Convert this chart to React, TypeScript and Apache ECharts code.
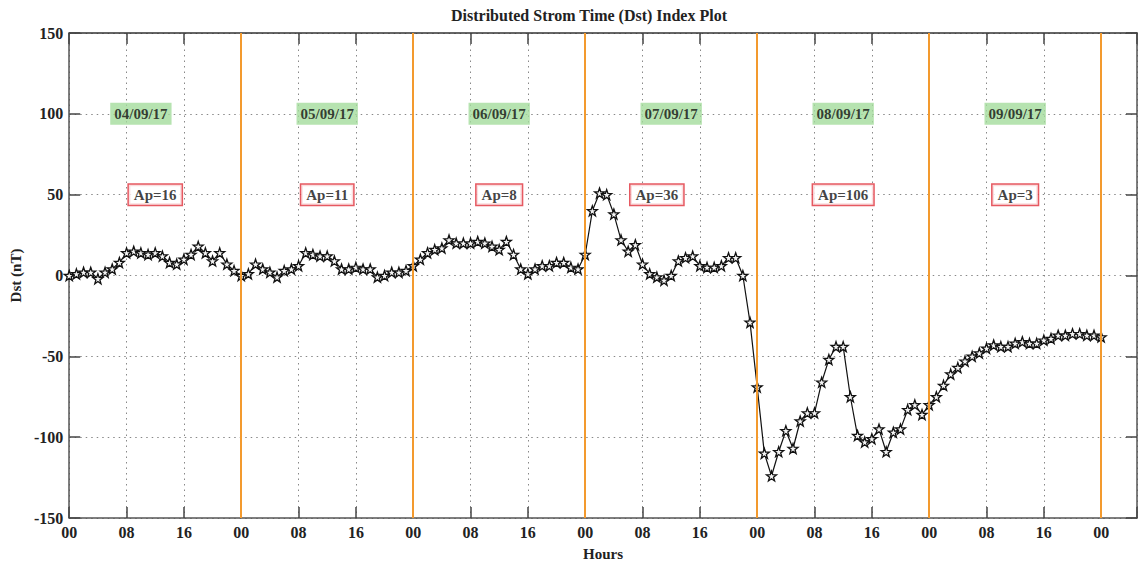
import React, { useEffect, useRef } from "react";
import * as echarts from "echarts";

// Hourly Dst values (nT), 04/09/17 00h .. 10/09/17 00h
const dstDay1 = [0, 1, 2, 2, -2, 2, 4, 8, 14, 15, 14, 13, 14, 12, 8, 7, 10, 13, 18, 14, 9, 14, 7, 3];
const dstDay2 = [0, 1, 7, 4, 2, -1, 3, 4, 6, 14, 13, 12, 12, 9, 4, 4, 5, 4, 4, -1, 0, 2, 2, 3];
const dstDay3 = [6, 10, 14, 16, 17, 22, 20, 20, 20, 21, 20, 18, 16, 21, 13, 4, 1, 4, 6, 6, 8, 8, 5, 4];
const dstDay4 = [13, 40, 51, 50, 38, 22, 15, 19, 7, 1, -1, -3, 0, 9, 11, 12, 6, 5, 5, 6, 11, 11, 0, -29];
const dstDay5 = [-69, -110, -124, -109, -96, -107, -90, -85, -85, -66, -52, -44, -44, -75, -99, -103, -101, -95, -109, -97, -95, -83, -80, -86];
const dstDay6 = [-80, -75, -68, -61, -57, -53, -50, -48, -45, -43, -44, -44, -42, -41, -42, -42, -40, -39, -37, -37, -36, -36, -37, -37];
const dstFinal = [-38];

const dayBoundaries = [24, 48, 72, 96, 120, 144];
const dateLabels = ["04/09/17", "05/09/17", "06/09/17", "07/09/17", "08/09/17", "09/09/17"];
const dateHours = [10, 36, 60, 84, 108, 132];
const dateLevel = 100;
const apLabels = ["Ap=16", "Ap=11", "Ap=8", "Ap=36", "Ap=106", "Ap=3"];
const apHours = [12, 36, 60, 82, 108, 132];
const apLevel = 50;

const STAR =
  "path://M0,-10 L2.35,-3.24 L9.51,-3.09 L3.8,1.24 L5.88,8.09 L0,4 L-5.88,8.09 L-3.8,1.24 L-9.51,-3.09 L-2.35,-3.24 Z";

const FONT = "'Liberation Serif', 'DejaVu Serif', serif";

export default function App() {
  const ref = useRef<HTMLDivElement>(null);

  useEffect(() => {
    document.body.style.margin = "0";
    if (!ref.current) return;
    const chart = echarts.init(ref.current, undefined, { renderer: "svg" });
    const dst = [...dstDay1, ...dstDay2, ...dstDay3, ...dstDay4, ...dstDay5, ...dstDay6, ...dstFinal];
    const lineData = dst.map((v, i) => [i, v]);

    const axisLabelStyle = {
      fontFamily: FONT,
      fontWeight: "bold" as const,
      fontSize: 16,
      color: "#222",
    };
    const axisLine = { show: true, onZero: false, lineStyle: { color: "#555", width: 1.5 } };
    const axisTick = { show: true, inside: true, length: 11, lineStyle: { color: "#444", width: 1.5 } };
    const gridLine = { show: true, lineStyle: { color: "#888", width: 1, type: [1.5, 4] as any } };

    chart.setOption({
      animation: false,
      backgroundColor: "#fff",
      graphic: [
        {
          type: "text",
          x: 589,
          y: 15,
          style: {
            text: "Distributed Strom Time (Dst) Index Plot",
            fontFamily: FONT,
            fontWeight: "bold",
            fontSize: 16,
            fill: "#222",
            textAlign: "center",
            textVerticalAlign: "middle",
          },
        },
      ],
      grid: { left: 67, right: 2, top: 33, bottom: 46 },
      xAxis: [
        {
          type: "value",
          position: "bottom",
          min: 0,
          max: 149,
          interval: 8,
          axisLine,
          axisTick,
          splitLine: gridLine,
          axisLabel: {
            ...axisLabelStyle,
            margin: 6,
            formatter: (v: number) => (v % 8 === 0 ? String(v % 24).padStart(2, "0") : ""),
          },
          name: "Hours",
          nameLocation: "middle",
          nameGap: 28,
          nameTextStyle: { ...axisLabelStyle, fontSize: 15 },
        },
        {
          type: "value",
          position: "top",
          min: 0,
          max: 149,
          interval: 8,
          axisLine: { show: true, onZero: false, lineStyle: { color: "#333", width: 1.5 } },
          axisTick,
          splitLine: { show: false },
          axisLabel: { show: false },
        },
      ],
      yAxis: [
        {
          type: "value",
          position: "left",
          min: -150,
          max: 150,
          interval: 50,
          axisLine,
          axisTick,
          splitLine: gridLine,
          axisLabel: { ...axisLabelStyle, margin: 6 },
          name: "Dst (nT)",
          nameLocation: "middle",
          nameGap: 44,
          nameRotate: 90,
          nameTextStyle: { ...axisLabelStyle, fontSize: 15 },
        },
        {
          type: "value",
          position: "right",
          min: -150,
          max: 150,
          interval: 50,
          axisLine,
          axisTick,
          splitLine: { show: false },
          axisLabel: { show: false },
        },
      ],
      series: [
        {
          type: "line",
          data: [],
          z: 1,
          silent: true,
          markLine: {
            silent: true,
            symbol: "none",
            label: { show: false },
            lineStyle: { color: "#f39a2e", width: 2, type: "solid" },
            data: dayBoundaries.map((h) => ({ xAxis: h })),
          },
        },
        {
          type: "line",
          data: lineData,
          z: 3,
          symbol: STAR,
          symbolSize: 10,
          showAllSymbol: true,
          lineStyle: { color: "#111", width: 1.2 },
          itemStyle: { color: "#f4f4f4", borderColor: "#111", borderWidth: 1.3 },
        },
        {
          type: "scatter",
          z: 4,
          symbolSize: 1,
          itemStyle: { color: "rgba(0,0,0,0)" },
          data: dateHours.map((h, i) => ({ value: [h, dateLevel], name: dateLabels[i] })),
          label: {
            show: true,
            position: "inside",
            formatter: (p: any) => p.name,
            fontFamily: FONT,
            fontWeight: "bold",
            fontSize: 15,
            color: "#111",
            backgroundColor: "#a4dc9c",
            padding: [4, 4, 3, 4],
          },
        },
        {
          type: "scatter",
          z: 4,
          symbolSize: 1,
          itemStyle: { color: "rgba(0,0,0,0)" },
          data: apHours.map((h, i) => ({ value: [h, apLevel], name: apLabels[i] })),
          label: {
            show: true,
            position: "inside",
            formatter: (p: any) => p.name,
            fontFamily: FONT,
            fontWeight: "bold",
            fontSize: 15,
            color: "#111",
            backgroundColor: "#fff",
            borderColor: "#e0303a",
            borderWidth: 1.5,
            padding: [3, 5, 2, 5],
          },
        },
      ],
    });
    return () => chart.dispose();
  }, []);

  return <div ref={ref} style={{ width: 1140, height: 566 }} />;
}
